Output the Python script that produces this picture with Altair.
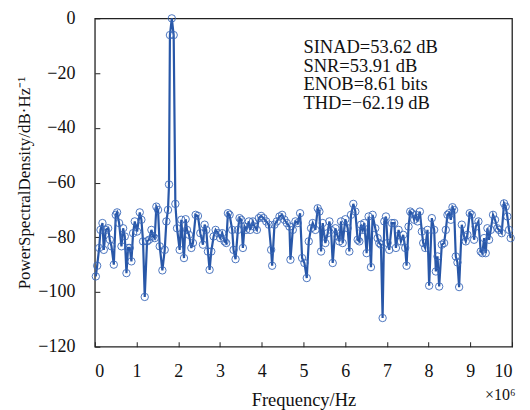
import altair as alt
import pandas as pd

freq_mhz = [
    0.024, 0.056, 0.104, 0.136, 0.183, 0.215, 0.263, 0.319, 0.359, 0.399,
    0.455, 0.502, 0.534, 0.582, 0.638, 0.678, 0.718, 0.758, 0.797, 0.837,
    0.877, 0.917, 0.957, 1.013, 1.077, 1.116, 1.156, 1.196, 1.252, 1.300,
    1.356, 1.396, 1.435, 1.475, 1.515, 1.555, 1.619, 1.675, 1.715, 1.754,
    1.778, 1.800, 1.845, 1.890, 1.930, 1.970, 2.033, 2.073, 2.137, 2.177,
    2.209, 2.257, 2.313, 2.352, 2.416, 2.472, 2.528, 2.592, 2.632, 2.671,
    2.711, 2.751, 2.791, 2.847, 2.895, 2.951, 3.006, 3.054, 3.110, 3.150,
    3.190, 3.230, 3.293, 3.325, 3.373, 3.429, 3.469, 3.509, 3.549, 3.589,
    3.628, 3.692, 3.724, 3.788, 3.828, 3.884, 3.931, 3.987, 4.043, 4.107,
    4.171, 4.226, 4.250, 4.306, 4.362, 4.426, 4.490, 4.545, 4.601, 4.665,
    4.689, 4.745, 4.809, 4.864, 4.920, 4.968, 5.024, 5.080, 5.128, 5.183,
    5.223, 5.287, 5.343, 5.383, 5.423, 5.463, 5.526, 5.582, 5.622, 5.662,
    5.702, 5.766, 5.821, 5.861, 5.901, 5.941, 6.005, 6.061, 6.100, 6.140,
    6.196, 6.244, 6.300, 6.340, 6.380, 6.420, 6.459, 6.515, 6.563, 6.619,
    6.659, 6.722, 6.778, 6.818, 6.858, 6.898, 6.938, 6.978, 7.018, 7.057,
    7.121, 7.177, 7.217, 7.281, 7.337, 7.392, 7.440, 7.472, 7.520, 7.560,
    7.600, 7.656, 7.695, 7.735, 7.791, 7.839, 7.871, 7.919, 7.974, 8.014,
    8.078, 8.134, 8.174, 8.214, 8.254, 8.317, 8.373, 8.413, 8.453, 8.493,
    8.533, 8.573, 8.612, 8.652, 8.692, 8.732, 8.796, 8.852, 8.892, 8.931,
    8.987, 9.035, 9.091, 9.131, 9.195, 9.250, 9.290, 9.330, 9.370, 9.410,
    9.450, 9.490, 9.545, 9.593, 9.649, 9.689, 9.753, 9.809, 9.848, 9.888,
    9.928, 9.968,
]

psd_db = [
    -94.3, -90.4, -83.9, -77.3, -74.8, -84.6, -77.3, -76.7, -80.9, -83.3,
    -90.0, -71.8, -70.9, -74.8, -83.3, -76.7, -79.7, -93.1, -83.9, -83.9,
    -88.8, -78.5, -74.2, -77.9, -70.9, -73.6, -81.5, -101.8, -81.5, -80.9,
    -77.3, -79.7, -80.3, -68.8, -70.0, -83.3, -92.1, -84.6, -74.2, -70.0,
    -60.7, -6.1, 0.0, -6.1, -67.8, -76.7, -84.6, -73.6, -87.6, -73.4,
    -77.3, -79.1, -83.9, -82.1, -71.8, -72.2, -78.5, -82.7, -75.4, -77.3,
    -85.2, -91.9, -85.2, -79.7, -77.3, -78.5, -80.3, -78.5, -81.5, -82.1,
    -71.2, -71.8, -77.3, -84.6, -88.0, -77.3, -73.0, -73.6, -83.9, -76.1,
    -77.3, -74.2, -77.3, -74.2, -76.1, -77.3, -73.0, -72.2, -73.0, -74.2,
    -75.4, -84.6, -90.4, -75.4, -74.2, -72.4, -71.8, -73.6, -74.8, -76.1,
    -88.2, -77.3, -74.2, -74.8, -71.2, -87.6, -89.4, -94.9, -81.5, -76.7,
    -74.8, -77.3, -69.4, -70.6, -85.2, -74.8, -82.1, -78.5, -74.2, -77.3,
    -89.4, -76.7, -79.7, -81.5, -74.2, -82.1, -73.4, -76.7, -85.2, -71.8,
    -67.8, -70.6, -80.9, -81.5, -75.4, -77.3, -74.8, -85.8, -72.4, -90.9,
    -71.8, -76.7, -80.3, -82.1, -82.7, -109.5, -74.2, -72.4, -82.1, -84.6,
    -74.8, -74.8, -83.9, -77.3, -81.5, -79.1, -83.9, -90.4, -76.1, -70.6,
    -71.2, -73.6, -71.8, -74.2, -70.6, -77.9, -82.1, -83.9, -77.3, -97.7,
    -73.0, -77.3, -92.5, -87.0, -98.0, -82.7, -82.1, -77.3, -71.8, -71.2,
    -73.6, -69.0, -70.0, -87.0, -89.2, -98.2, -75.4, -79.7, -81.5, -79.1,
    -71.2, -71.8, -80.9, -76.1, -74.2, -85.2, -85.8, -80.3, -85.8, -76.7,
    -80.9, -77.3, -71.8, -73.6, -76.7, -77.3, -78.5, -67.6, -68.8, -72.4,
    -77.3, -80.3,
]

x_ticks = [0, 1, 2, 3, 4, 5, 6, 7, 8, 9, 10]
y_ticks = [0, -20, -40, -60, -80, -100, -120]

stats_lines = ["SINAD=53.62 dB", "SNR=53.91 dB", "ENOB=8.61 bits", "THD=\u221262.19 dB"]
x_title = "Frequency/Hz"
y_title = "PowerSpectralDensity/dB\u00b7Hz\u207b\u00b9"
exp_label = "\u00d710\u2076"

df = pd.DataFrame({"f": freq_mhz, "p": psd_db})

FONT = "Liberation Serif"
BLUE = "#2857a8"

x_enc = alt.X(
    "f:Q",
    scale=alt.Scale(domain=[0, 10], nice=False),
    axis=alt.Axis(values=x_ticks, title=x_title, format="d", labelPadding=16, titlePadding=10,
                  titleFontSize=18.5),
)
y_enc = alt.Y(
    "p:Q",
    scale=alt.Scale(domain=[-120, 0], nice=False),
    axis=alt.Axis(values=y_ticks, title=y_title, format="d", labelPadding=20, titlePadding=4,
                  titleFontSize=17),
)

base = alt.Chart(df).encode(x=x_enc, y=y_enc)
line = base.mark_line(color=BLUE, strokeWidth=2.2)
pts = base.mark_point(
    shape="circle", filled=False, color="#3a68b8", size=55, strokeWidth=0.9, opacity=1
)

stats = alt.Chart(pd.DataFrame({"t": ["\n".join(stats_lines)]})).mark_text(
    align="left", baseline="top", font=FONT, fontSize=18.5, lineBreak="\n",
    lineHeight=18.5, color="#111",
).encode(x=alt.value(209), y=alt.value(20), text="t:N")

exp = alt.Chart(pd.DataFrame({"t": [exp_label]})).mark_text(
    align="left", baseline="middle", font=FONT, fontSize=16, color="#111",
).encode(x=alt.value(391), y=alt.value(377), text="t:N")

chart = alt.layer(line, pts, stats, exp).properties(
    width=418,
    height=329,
    autosize=alt.AutoSizeParams(type="none"),
    padding={"left": 87, "top": 10, "right": 10, "bottom": 64},
    background="white",
).configure_view(
    stroke="#222", strokeWidth=1.3
).configure_axis(
    offset=-5, tickSize=5, domain=False, grid=False,
    labelFont=FONT, titleFont=FONT, labelFontSize=18,
    labelColor="#111", titleColor="#111", tickColor="#222",
    titleFontWeight="normal",
)

chart.save("out.html", embed_options={"renderer": "svg", "actions": False})
